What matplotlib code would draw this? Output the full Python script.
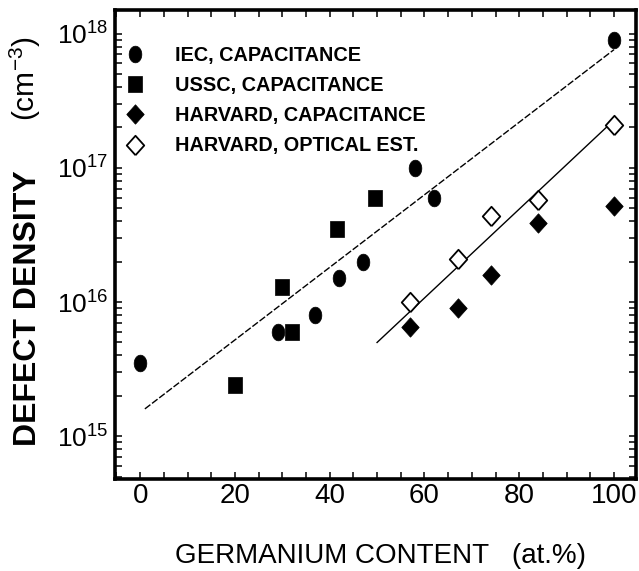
import numpy as np
import matplotlib
matplotlib.use("Agg")
import matplotlib.pyplot as plt
from matplotlib.ticker import MultipleLocator, LogLocator, NullFormatter

plt.rcParams['font.family'] = ['Liberation Sans', 'DejaVu Sans']
plt.rcParams['mathtext.fontset'] = 'custom'
plt.rcParams['mathtext.rm'] = 'Liberation Sans'
plt.rcParams['mathtext.it'] = 'Liberation Sans:italic'
plt.rcParams['mathtext.bf'] = 'Liberation Sans:bold'

# defect density (cm^-3) vs germanium content (at.%)
iec_x = [0, 29, 37, 42, 47, 58, 62, 100]
iec_y = [3.5e15, 6e15, 8e15, 1.5e16, 2e16, 1e17, 6e16, 9e17]

ussc_x = [20, 30, 32, 41.5, 49.5]
ussc_y = [2.4e15, 1.3e16, 6e15, 3.5e16, 6e16]

harv_cap_x = [57, 67, 74, 84, 100]
harv_cap_y = [6.5e15, 9e15, 1.6e16, 3.9e16, 5.2e16]

harv_opt_x = [57, 67, 74, 84, 100]
harv_opt_y = [1e16, 2.1e16, 4.4e16, 5.8e16, 2.1e17]

# exponential fits (straight on the log axis)
fit_all_x = [1, 100]
fit_all_y = [1.6e15, 7.6e17]
fit_harv_x = [50, 99]
fit_harv_y = [5e15, 2.1e17]

labels = ['IEC, CAPACITANCE', 'USSC, CAPACITANCE',
          'HARVARD, CAPACITANCE', 'HARVARD, OPTICAL EST.']
x_ticks = [0, 20, 40, 60, 80, 100]
y_ticks = [1e15, 1e16, 1e17, 1e18]
y_ticklabels = [r'$\mathregular{10^{15}}$', r'$\mathregular{10^{16}}$',
                r'$\mathregular{10^{17}}$', r'$\mathregular{10^{18}}$']

# slightly tall marker shapes
t = np.linspace(0, 2 * np.pi, 64)
ellipse = list(zip(0.76 * np.cos(t), np.sin(t)))
rect = [(-0.82, -1), (0.82, -1), (0.82, 1), (-0.82, 1), (-0.82, -1)]
diamond = [(0, -1), (0.9, 0), (0, 1), (-0.9, 0), (0, -1)]

fig = plt.figure(figsize=(6.39, 5.71), dpi=100)
ax = fig.add_axes([0.18, 0.161, 0.815, 0.8215])

ax.plot(fit_all_x, fit_all_y, color='black', lw=1.0, dashes=(5, 1.5))
ax.plot(fit_harv_x, fit_harv_y, color='black', lw=1.0)

ax.plot(iec_x, iec_y, ls='none', marker=ellipse, ms=12, color='black',
        mew=0.5, label=labels[0])
ax.plot(ussc_x, ussc_y, ls='none', marker=rect, ms=12, color='black',
        mew=0.5, label=labels[1])
ax.plot(harv_cap_x, harv_cap_y, ls='none', marker=diamond, ms=14,
        color='black', mew=0.5, label=labels[2])
ax.plot(harv_opt_x, harv_opt_y, ls='none', marker=diamond, ms=14,
        mfc='white', mec='black', mew=1.3, label=labels[3])

ax.set_yscale('log')
ax.set_xlim(-5.3, 104.6)
ax.set_ylim(4.8e14, 1.5e18)

ax.set_xticks(x_ticks)
ax.xaxis.set_minor_locator(MultipleLocator(5))
ax.set_yticks(y_ticks)
ax.set_yticklabels(y_ticklabels)
ax.yaxis.set_minor_locator(LogLocator(base=10, subs=np.arange(2, 10)))
ax.yaxis.set_minor_formatter(NullFormatter())

ax.tick_params(which='both', direction='in', top=True, right=True,
               width=1.1, length=5)
ax.tick_params(axis='x', labelsize=20, pad=3)
ax.tick_params(axis='y', labelsize=19, pad=5)
for s in ax.spines.values():
    s.set_linewidth(2.6)

leg = ax.legend(loc='upper left', bbox_to_anchor=(0.02, 0.923),
                frameon=False, handlelength=1.0, handletextpad=1.5,
                labelspacing=0.56, borderpad=0, borderaxespad=0,
                prop={'weight': 'bold', 'size': 14.3})

fig.text(0.044, 0.46, 'DEFECT DENSITY', rotation=90, ha='center',
         va='center', fontsize=23, fontweight='bold')
fig.text(0.040, 0.863, r'(cm$^{\mathregular{-3}}$)', rotation=90,
         ha='center', va='center', fontsize=21.5)
fig.text(0.274, 0.014, 'GERMANIUM CONTENT   (at.%)', ha='left',
         va='baseline', fontsize=20)

fig.savefig('out.png', dpi=100)
